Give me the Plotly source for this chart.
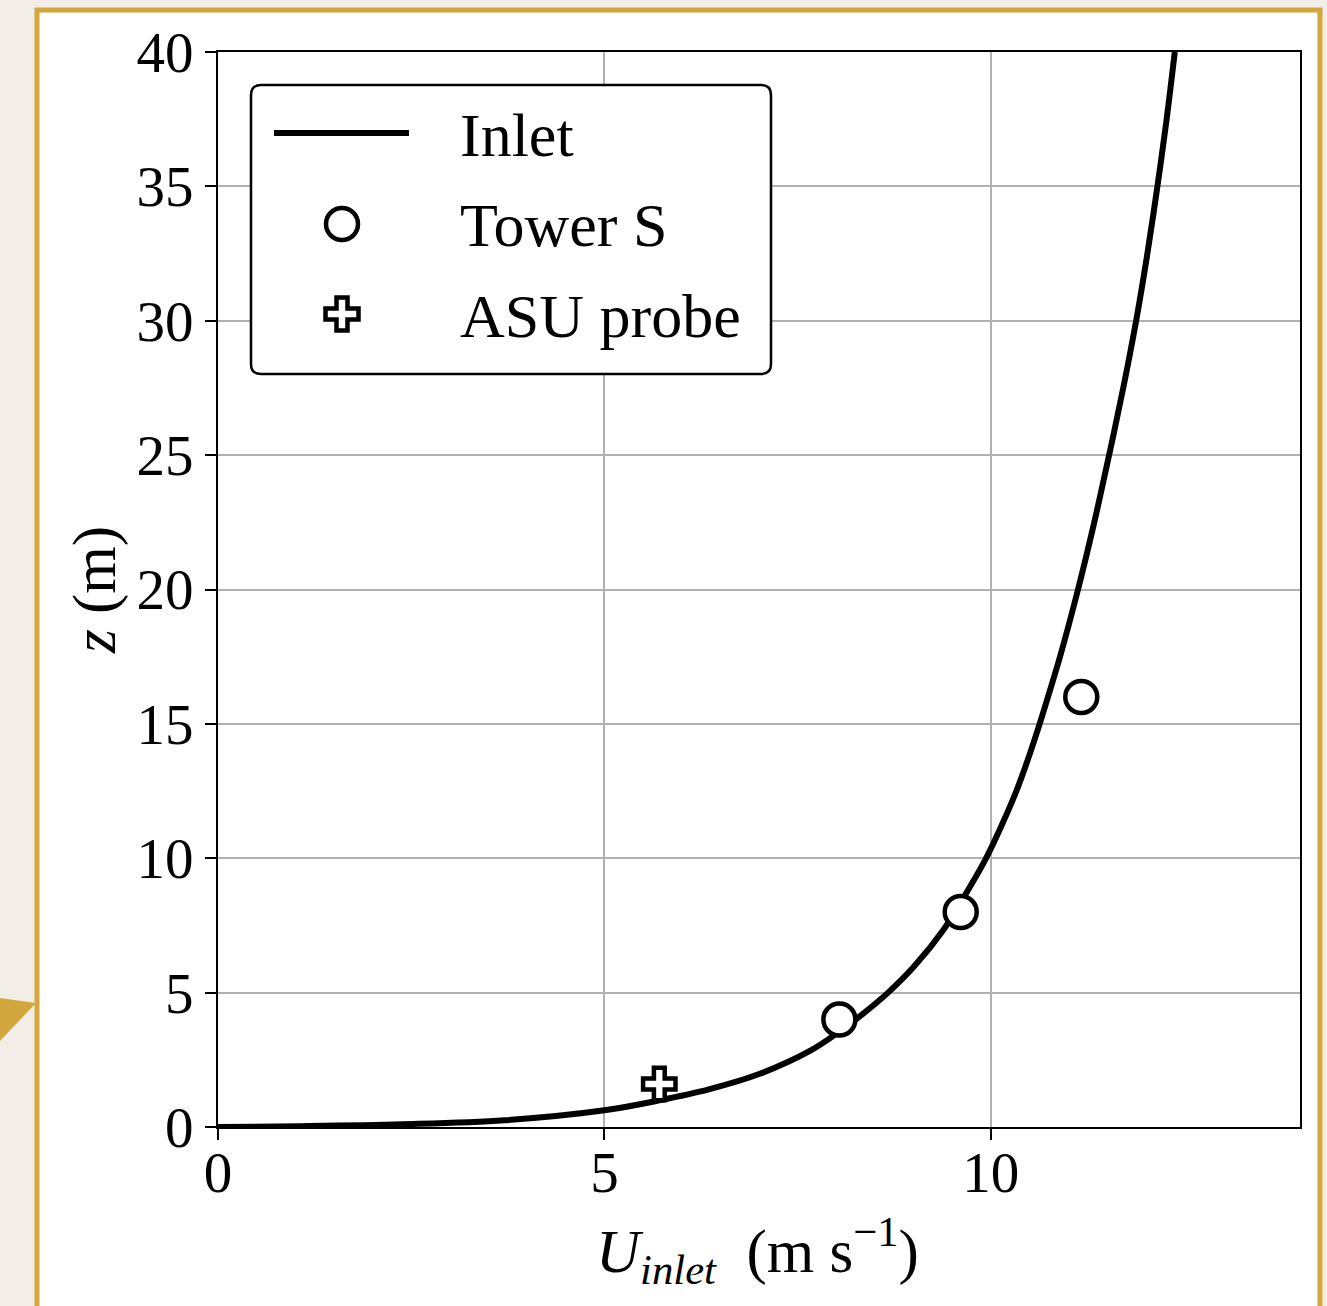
import plotly.graph_objects as go

# ---- data ----
inlet_u = [0.0, 1.07, 2.39, 3.71, 5.0, 5.71, 6.35, 7.01, 7.67, 8.04, 8.34, 8.67, 9.0, 9.39,
           9.65, 9.92, 10.12, 10.33, 10.47, 10.62, 10.76, 10.89, 11.11, 11.33, 11.53,
           11.72, 11.88, 12.02, 12.15, 12.27, 12.38]
inlet_z = [0.0, 0.03, 0.10, 0.25, 0.62, 0.99, 1.40, 1.98, 2.85, 3.55, 4.2, 5.0, 5.95, 7.35,
           8.55, 9.9, 11.1, 12.5, 13.6, 14.9, 16.2, 17.45, 19.8, 22.4, 25.0,
           27.6, 30.0, 32.4, 34.9, 37.4, 40.0]
tower_u = [8.04, 9.61, 11.17]
tower_z = [4.0, 8.0, 16.0]
asu_u = [5.71]
asu_z = [1.6]
x_ticks = [0, 5, 10]
y_ticks = [0, 5, 10, 15, 20, 25, 30, 35, 40]
legend_labels = ["Inlet", "Tower S", "ASU probe"]

W, H = 1327, 1306
L, R, T, B = 218, 1300, 52, 1127  # plot area in pixels
FONT = "Liberation Serif"
GOLD = "#D2A83E"


def px(x):
    return (x - L) / (R - L)


def py(y):
    return (B - y) / (B - T)


fig = go.Figure()
fig.add_trace(go.Scatter(x=inlet_u, y=inlet_z, mode="lines", name=legend_labels[0],
                         line=dict(color="black", width=6, shape="spline", smoothing=1.0)))
fig.add_trace(go.Scatter(x=tower_u, y=tower_z, mode="markers", name=legend_labels[1],
                         marker=dict(symbol="circle", size=32, color="white",
                                     line=dict(color="black", width=4.5))))
fig.add_trace(go.Scatter(x=asu_u, y=asu_z, mode="markers", name=legend_labels[2],
                         marker=dict(symbol="cross", size=27, color="white",
                                     line=dict(color="black", width=4.5))))

shapes = []
# decorative background pieces
shapes.append(dict(type="path", xref="paper", yref="paper", layer="below",
                   path=f"M{px(0)},{py(998)} L{px(36)},{py(1003)} L{px(0)},{py(1041)} Z",
                   fillcolor=GOLD, line=dict(width=0)))
shapes.append(dict(type="rect", xref="paper", yref="paper", layer="below",
                   x0=px(37), x1=px(1320), y0=py(10), y1=py(1330),
                   fillcolor="white", line=dict(color=GOLD, width=5)))

# legend box (rounded)
bx0, bx1, by0, by1, rr = 251, 771, 85, 374, 10
path = (f"M{px(bx0 + rr)},{py(by0)} L{px(bx1 - rr)},{py(by0)} "
        f"Q{px(bx1)},{py(by0)} {px(bx1)},{py(by0 + rr)} "
        f"L{px(bx1)},{py(by1 - rr)} Q{px(bx1)},{py(by1)} {px(bx1 - rr)},{py(by1)} "
        f"L{px(bx0 + rr)},{py(by1)} Q{px(bx0)},{py(by1)} {px(bx0)},{py(by1 - rr)} "
        f"L{px(bx0)},{py(by0 + rr)} Q{px(bx0)},{py(by0)} {px(bx0 + rr)},{py(by0)} Z")
shapes.append(dict(type="path", xref="paper", yref="paper", path=path,
                   fillcolor="white", line=dict(color="black", width=2.5)))
# legend glyphs
shapes.append(dict(type="line", xref="paper", yref="paper",
                   x0=px(274), x1=px(409), y0=py(133), y1=py(133),
                   line=dict(color="black", width=6)))
cx, cy, r = 342, 224, 16
shapes.append(dict(type="circle", xref="paper", yref="paper",
                   x0=px(cx - r), x1=px(cx + r), y0=py(cy + r), y1=py(cy - r),
                   fillcolor="white", line=dict(color="black", width=4.5)))
cx, cy, h, a = 342, 314, 16.5, 5.5
pts = [(-a, -h), (a, -h), (a, -a), (h, -a), (h, a), (a, a), (a, h), (-a, h), (-a, a),
       (-h, a), (-h, -a), (-a, -a)]
cross = "M" + " L".join(f"{px(cx + dx)},{py(cy + dy)}" for dx, dy in pts) + " Z"
shapes.append(dict(type="path", xref="paper", yref="paper", path=cross,
                   fillcolor="white", line=dict(color="black", width=4.5)))

annotations = []
for lbl, yy in zip(legend_labels, [135, 225, 316]):
    annotations.append(dict(text=lbl, xref="paper", yref="paper", x=px(458), y=py(yy),
                            xanchor="left", yanchor="middle", showarrow=False,
                            font=dict(family=FONT, size=62, color="black")))
annotations.append(dict(text="<i>U</i><sub><i>inlet</i></sub>  (m s<sup>−1</sup>)",
                        xref="paper", yref="paper", x=px(757), y=py(1250),
                        xanchor="center", yanchor="middle", showarrow=False,
                        font=dict(family=FONT, size=61, color="black")))
annotations.append(dict(text="<i>z</i> (m)", xref="paper", yref="paper",
                        x=px(95), y=py(590), textangle=-90,
                        xanchor="center", yanchor="middle", showarrow=False,
                        font=dict(family=FONT, size=61, color="black")))

axis_common = dict(showline=True, linecolor="black", linewidth=2, mirror=True,
                   ticks="outside", ticklen=11, tickwidth=2, tickcolor="black",
                   showgrid=True, gridcolor="#b0b0b0", gridwidth=2, zeroline=False,
                   tickfont=dict(family=FONT, size=57, color="black"))

fig.update_layout(
    width=W, height=H, autosize=False,
    margin=dict(l=L, r=W - R, t=T, b=H - B, pad=0),
    paper_bgcolor="#F2EEE7", plot_bgcolor="white",
    showlegend=False,
    shapes=shapes, annotations=annotations,
    xaxis=dict(range=[0, 14], tickvals=x_ticks, ticktext=[str(v) for v in x_ticks],
               ticklabelstandoff=-16, **axis_common),
    yaxis=dict(range=[0, 40], tickvals=y_ticks, ticktext=[str(v) for v in y_ticks],
               **axis_common),
)

fig.write_html("out.html", config={"displayModeBar": False},
               post_script="document.body.style.margin='0';")
